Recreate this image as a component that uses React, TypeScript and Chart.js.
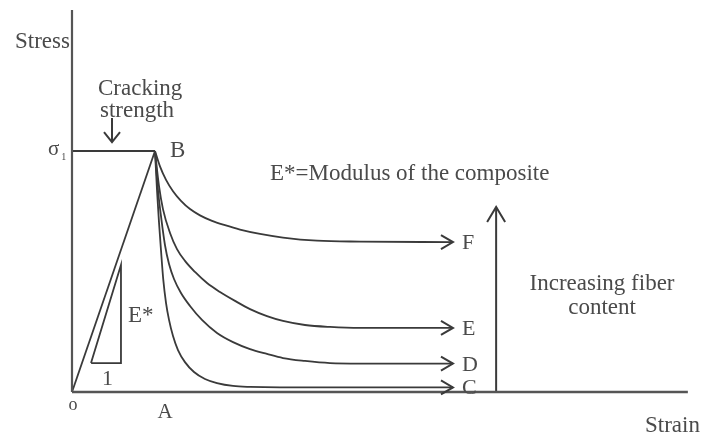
import { useEffect, useRef } from 'react';
import { Chart, registerables } from 'chart.js';

Chart.register(...registerables);

// Schematic stress–strain diagram. Units: strain normalised so that A = 1,
// stress normalised so that the cracking strength σ1 = 1.
const axisStrain = [0, 7.42];
const axisStress = [0, 1.585];

const riseStrain = [0, 1];
const riseStress = [0, 1];

const crackLineStrain = [0, 1];
const crackLineStress = [1, 1];

const strainF = [1, 1.06, 1.133, 1.217, 1.313, 1.422, 1.542, 1.687, 1.843, 2.024, 2.265, 2.542, 2.952, 3.47, 4.59];
const stressF = [1, 0.936, 0.88, 0.833, 0.793, 0.759, 0.733, 0.71, 0.692, 0.674, 0.656, 0.641, 0.628, 0.624, 0.622];

const strainE = [1, 1.048, 1.096, 1.181, 1.265, 1.361, 1.482, 1.627, 1.783, 1.964, 2.145, 2.349, 2.542, 2.807, 3.108, 3.47, 4.59];
const stressE = [1, 0.855, 0.759, 0.66, 0.593, 0.544, 0.498, 0.452, 0.415, 0.378, 0.344, 0.315, 0.295, 0.278, 0.27, 0.266, 0.266];

const strainD = [1, 1.036, 1.078, 1.12, 1.169, 1.229, 1.313, 1.422, 1.566, 1.747, 1.94, 2.145, 2.349, 2.542, 2.807, 3.108, 3.47, 4.59];
const stressD = [1, 0.838, 0.714, 0.61, 0.531, 0.469, 0.411, 0.357, 0.299, 0.245, 0.207, 0.178, 0.158, 0.141, 0.129, 0.12, 0.118, 0.118];

const strainC = [1, 1.024, 1.048, 1.072, 1.1, 1.133, 1.169, 1.217, 1.277, 1.361, 1.47, 1.602, 1.747, 1.94, 2.145, 2.506, 4.59];
const stressC = [1, 0.838, 0.705, 0.589, 0.465, 0.369, 0.299, 0.232, 0.174, 0.124, 0.083, 0.054, 0.037, 0.025, 0.021, 0.019, 0.019];

const curveLabels = ['F', 'E', 'D', 'C'];

const triangleStrain = [0.229, 0.59, 0.59, 0.229];
const triangleStress = [0.12, 0.12, 0.527, 0.12];

const fiberArrowStrain = [5.11, 5.11];
const fiberArrowStress = [0, 0.768];

const crackArrowStrain = [0.482, 0.482];
const crackArrowStress = [1.137, 1.037];

// text annotations: [text, strain, stress, align, size]
const notes: [string, number, number, CanvasTextAlign, number][] = [
  ['Stress', -0.687, 1.427, 'left', 23],
  ['Cracking', 0.313, 1.232, 'left', 23],
  ['strength', 0.337, 1.141, 'left', 23],
  ['σ', -0.289, 0.983, 'left', 21],
  ['1', -0.13, 0.962, 'left', 10],
  ['B', 1.181, 0.975, 'left', 23],
  ['E*=Modulus of the composite', 2.386, 0.88, 'left', 23],
  ['Increasing fiber', 6.386, 0.423, 'center', 23],
  ['content', 6.386, 0.324, 'center', 23],
  ['Strain', 6.904, -0.166, 'left', 23],
  ['o', 0.012, -0.075, 'center', 18],
  ['A', 1.12, -0.108, 'center', 21],
  ['1', 0.361, 0.029, 'left', 22],
  ['E*', 0.675, 0.29, 'left', 23],
];

const INK = '#3a3a3a';
const TEXT = '#4a4a4a';
const FONT = '"Liberation Serif", "Times New Roman", serif';

const pts = (xs: number[], ys: number[]) => xs.map((x, i) => ({ x, y: ys[i] }));

const arrowPlugin = {
  id: 'arrowsAndText',
  afterDatasetsDraw(chart: any) {
    const ctx: CanvasRenderingContext2D = chart.ctx;
    const xs = chart.scales.x;
    const ys = chart.scales.y;
    chart.data.datasets.forEach((ds: any, i: number) => {
      if (!ds.arrow) return;
      const meta = chart.getDatasetMeta(i);
      const p = meta.data[meta.data.length - 1];
      ctx.save();
      ctx.strokeStyle = INK;
      ctx.lineWidth = 2;
      ctx.lineJoin = 'miter';
      ctx.beginPath();
      if (ds.arrow === 'right') {
        ctx.moveTo(p.x - 12, p.y - 7);
        ctx.lineTo(p.x, p.y);
        ctx.lineTo(p.x - 12, p.y + 7);
      } else if (ds.arrow === 'up') {
        ctx.moveTo(p.x - 9, p.y + 15);
        ctx.lineTo(p.x, p.y);
        ctx.lineTo(p.x + 9, p.y + 15);
      } else {
        ctx.moveTo(p.x - 8, p.y - 10);
        ctx.lineTo(p.x, p.y);
        ctx.lineTo(p.x + 8, p.y - 10);
      }
      ctx.stroke();
      if (ds.endLabel) {
        ctx.fillStyle = TEXT;
        ctx.font = `22px ${FONT}`;
        ctx.textAlign = 'left';
        ctx.textBaseline = 'alphabetic';
        ctx.fillText(ds.endLabel, p.x + 9, p.y + 7);
      }
      ctx.restore();
    });
    ctx.save();
    ctx.fillStyle = TEXT;
    ctx.textBaseline = 'alphabetic';
    notes.forEach(([t, x, y, align, size]) => {
      ctx.font = `${size}px ${FONT}`;
      ctx.textAlign = align;
      ctx.fillText(t, xs.getPixelForValue(x), ys.getPixelForValue(y));
    });
    ctx.restore();
  },
};

export default function App() {
  const ref = useRef<HTMLCanvasElement>(null);
  useEffect(() => {
    const line = (data: any[], extra: any = {}) => ({
      data,
      showLine: true,
      borderColor: INK,
      borderWidth: 1.8,
      pointRadius: 0,
      fill: false,
      tension: 0,
      ...extra,
    });
    const curves = [
      [strainF, stressF],
      [strainE, stressE],
      [strainD, stressD],
      [strainC, stressC],
    ].map(([xs, ys], i) =>
      line(pts(xs, ys), { cubicInterpolationMode: 'monotone', arrow: 'right', endLabel: curveLabels[i] })
    );
    const chart = new Chart(ref.current!, {
      type: 'scatter',
      data: {
        datasets: [
          line(pts([0, 0], axisStress), { borderWidth: 2.2, borderColor: '#555' }),
          line(pts(axisStrain, [0, 0]), { borderWidth: 2.4, borderColor: '#555' }),
          line(pts(riseStrain, riseStress)),
          line(pts(crackLineStrain, crackLineStress)),
          line(pts(triangleStrain, triangleStress)),
          ...curves,
          line(pts(fiberArrowStrain, fiberArrowStress), { arrow: 'up', borderWidth: 2 }),
          line(pts(crackArrowStrain, crackArrowStress), { arrow: 'down', borderWidth: 2 }),
        ] as any,
      },
      options: {
        animation: false,
        responsive: false,
        maintainAspectRatio: false,
        devicePixelRatio: 1,
        layout: { padding: 0 },
        plugins: { legend: { display: false }, tooltip: { enabled: false } },
        scales: {
          x: { type: 'linear', display: false, min: -72 / 83, max: 630 / 83 },
          y: { type: 'linear', display: false, min: -44 / 241, max: 392 / 241 },
        },
      },
      plugins: [arrowPlugin],
    });
    return () => chart.destroy();
  }, []);
  return (
    <div style={{ position: 'absolute', left: 0, top: 0, width: 702, height: 436, background: '#fff' }}>
      <canvas ref={ref} width={702} height={436} style={{ display: 'block', width: 702, height: 436 }} />
    </div>
  );
}
